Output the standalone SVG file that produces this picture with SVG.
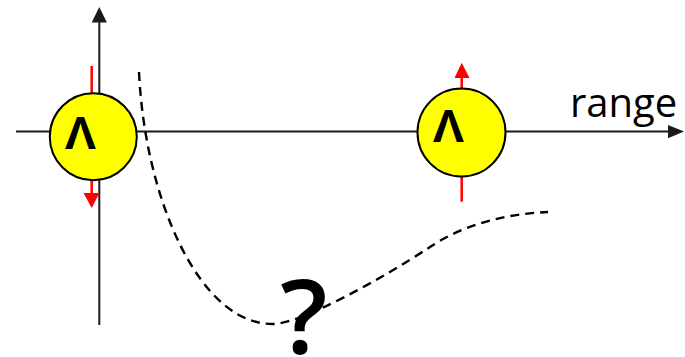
<svg xmlns="http://www.w3.org/2000/svg" width="685" height="357" viewBox="0 0 685 357">
  <style>
    .axis { stroke: #1a1a1a; stroke-width: 2; fill: none; }
    .spin { stroke: #ff0000; stroke-width: 2.5; fill: none; }
    .ball { fill: #ffff00; stroke: #000; stroke-width: 2; }
    .lam { font-family: "Liberation Sans", Arial, sans-serif; font-weight: bold; font-size: 47px; fill: #000; text-anchor: middle; }
    .lbl { font-family: "Open Sans", "Liberation Sans", sans-serif; fill: #000; }
    .pot { stroke: #000; stroke-width: 2.4; fill: none; stroke-dasharray: 9 6; }
  </style>
  <rect width="685" height="357" fill="#ffffff"/>
  <g id="connectors">
    <line class="axis" x1="99.3" y1="325" x2="99.3" y2="21"/>
    <polygon points="99.3,7 91.7,22.5 106.9,22.5" fill="#1a1a1a"/>
    <line class="axis" x1="16" y1="131.5" x2="669" y2="131.5"/>
    <polygon points="684,131.5 668,125 668,138.3" fill="#1a1a1a"/>
    <line class="spin" x1="91.7" y1="66" x2="91.7" y2="95"/>
    <line class="spin" x1="91.7" y1="179" x2="91.7" y2="194"/>
    <polygon points="91.7,208 83.5,193 99.5,193" fill="#ff0000"/>
    <line class="spin" x1="461.7" y1="76" x2="461.7" y2="89"/>
    <polygon points="461.7,62.7 454.5,78 469.5,78" fill="#ff0000"/>
    <line class="spin" x1="461.7" y1="176" x2="461.7" y2="201.7"/>
  </g>
  <g id="lambda-left">
    <circle class="ball" cx="93.3" cy="136.7" r="43.5"/>
    <text class="lam" x="80.5" y="149">Λ</text>
  </g>
  <g id="lambda-right">
    <circle class="ball" cx="461.5" cy="132.5" r="44"/>
    <text class="lam" x="448.5" y="142">Λ</text>
  </g>
  <g id="potential">
    <path class="pot" d="M139,72 C145,200 200,325 273,324 C300,324 380,280 430,247 C460,227 500,214 548,212"/>
  </g>
  <g id="labels">
    <text class="lbl" x="570" y="117" font-size="40">range</text>
    <text class="lbl" x="304" y="354" font-size="104" font-weight="600" text-anchor="middle">?</text>
  </g>
</svg>
